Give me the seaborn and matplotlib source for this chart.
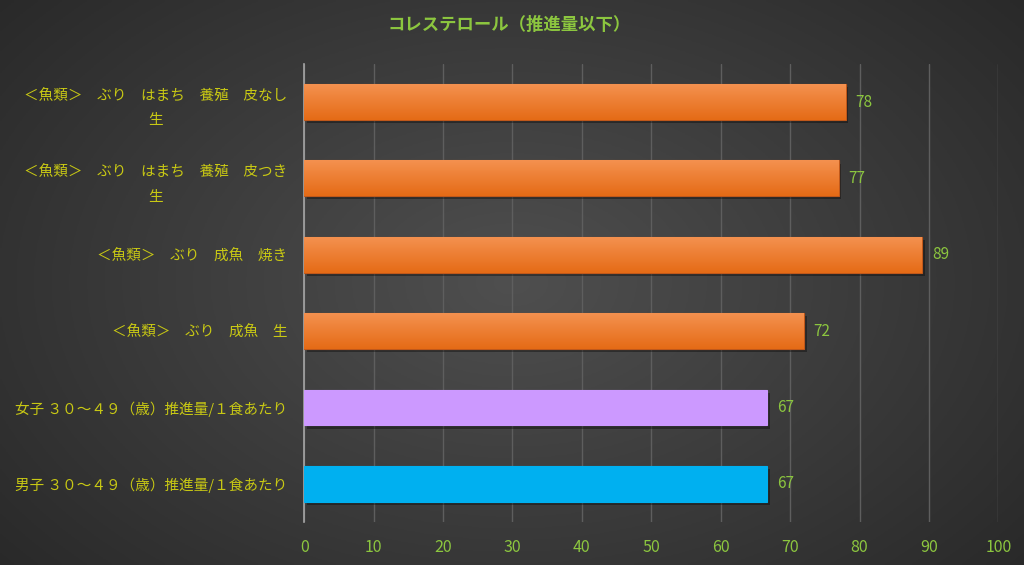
import numpy as np
import pandas as pd
import matplotlib
matplotlib.use("Agg")
import matplotlib.pyplot as plt
import matplotlib.colors as mcolors
import seaborn as sns

categories = [
    "＜魚類＞　ぶり　はまち　養殖　皮なし\n生",
    "＜魚類＞　ぶり　はまち　養殖　皮つき\n生",
    "＜魚類＞　ぶり　成魚　焼き",
    "＜魚類＞　ぶり　成魚　生",
    "女子 ３０～４９（歳）推進量/１食あたり",
    "男子 ３０～４９（歳）推進量/１食あたり",
]
values = [78, 77, 89, 72, 66.7, 66.7]
value_labels = ["78", "77", "89", "72", "67", "67"]
bar_colors = ["#F07C2E", "#F07C2E", "#F07C2E", "#F07C2E", "#CC99FF", "#00B0F0"]
xticks = [0, 10, 20, 30, 40, 50, 60, 70, 80, 90, 100]
title = "コレステロール（推進量以下）"

sns.set_theme(style="dark")
plt.rcParams['font.family'] = ['Noto Sans CJK JP', 'DejaVu Sans']

df = pd.DataFrame({"category": categories, "value": values})

fig = plt.figure(figsize=(10.24, 5.65), dpi=100)

# background gradient
bg = fig.add_axes([0, 0, 1, 1], zorder=-10)
yy, xx = np.mgrid[0:1:200j, 0:1:360j]
d = np.sqrt(((xx - 0.5) / 0.75) ** 2 + ((yy - 0.5) / 0.9) ** 2)
img = 0.31 - 0.17 * d
img = np.clip(img, 0.13, 0.32)
bg.imshow(np.dstack([img, img, img]), aspect="auto", extent=[0, 1, 0, 1])
bg.axis("off")

ax = fig.add_axes([0.297, 0.076, 0.678, 0.811])
ax.set_facecolor("none")
sns.barplot(data=df, y="category", x="value", hue="category", palette=bar_colors,
            legend=False, ax=ax, width=0.47, saturation=1,
            edgecolor="#C0581A", linewidth=0.8, zorder=3)

# orange gradient fill clipped to bars
grad_top = np.array(mcolors.to_rgb("#F4914F"))
grad_bot = np.array(mcolors.to_rgb("#E56B16"))
t = np.linspace(0, 1, 64)[:, None]
grad = (grad_top * (1 - t) + grad_bot * t)[:, None, :].repeat(2, axis=1)
for p, c in zip(ax.patches, bar_colors):
    if c == "#F07C2E":
        x0, y0 = p.get_x(), p.get_y()
        w, h = p.get_width(), p.get_height()
        im = ax.imshow(grad, extent=[x0, x0 + w, y0 + h, y0], aspect="auto",
                       zorder=3.5, interpolation="bilinear")
        im.set_clip_path(p)
    else:
        p.set_edgecolor(c)
    # soft shadow
    sh = plt.Rectangle((p.get_x() + 0.4, p.get_y() + 0.04), p.get_width(),
                       p.get_height(), color="black", alpha=0.35, zorder=2.5,
                       linewidth=0)
    ax.add_patch(sh)

ax.set_ylim(5.5, -0.5)
ax.set_xlim(0, 100)
ax.set_xticks(xticks)
ax.set_xticklabels([str(tk) for tk in xticks], color="#8CC63F", fontsize=11.5)
ax.tick_params(axis="x", length=0, pad=12)
ax.tick_params(axis="y", length=0, pad=12)
for lbl in ax.get_yticklabels():
    lbl.set_color("#C8C814")
    lbl.set_fontsize(10.5)
    lbl.set_multialignment("center")
    lbl.set_linespacing(1.9)
ax.set_xlabel("")
ax.set_ylabel("")
ax.grid(axis="x", color="#5E5E5E", linewidth=1, zorder=0)
ax.grid(axis="y", visible=False)
for s in ["top", "right", "bottom"]:
    ax.spines[s].set_visible(False)
ax.spines["left"].set_color("#A6A6A6")
ax.spines["left"].set_linewidth(1.2)

for i, (v, tl) in enumerate(zip(values, value_labels)):
    ax.annotate(tl, xy=(v, i), xytext=(7, 0), textcoords="offset points",
                va="center", ha="left", color="#8CC63F", fontsize=11)

fig.text(0.497, 0.955, title, ha="center", va="center", color="#8CC63F",
         fontsize=12.5, fontweight="bold")

fig.savefig("out.png", dpi=100)
